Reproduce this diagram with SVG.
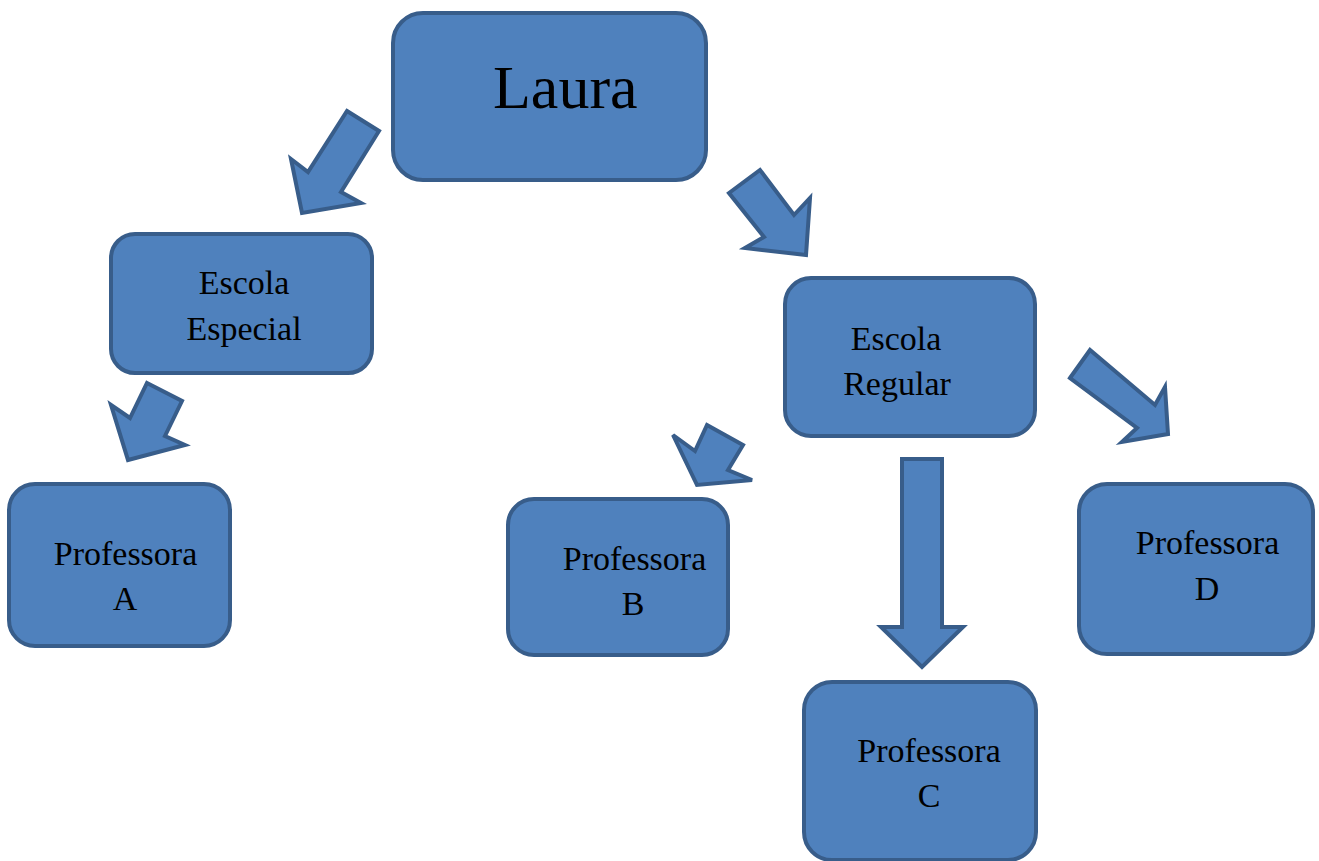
<svg xmlns="http://www.w3.org/2000/svg" width="1319" height="861" viewBox="0 0 1319 861">
<style>
.box{fill:#4f81bd;stroke:#385d8a;stroke-width:4}
.arr{fill:#4f81bd;stroke:#385d8a;stroke-width:4;stroke-linejoin:miter}
.t{font-family:"Liberation Serif","Times New Roman",serif;font-size:34px;fill:#000;text-anchor:middle}
</style>
<rect width="1319" height="861" fill="#ffffff"/>
<g id="connectors">
<polygon class="arr" points="347,111 379,131 341,192 361,203 302,213 291,159 308,172"/>
<polygon class="arr" points="729,193 760,170 794,215 810,198 806,255 745,248 764,237"/>
<polygon class="arr" points="147,383 182,401 165,436 185,445 128,460 111,405 130,418"/>
<polygon class="arr" points="707,425 743,445 728,470 752,480 697,485 673,435 695,451"/>
<polygon class="arr" points="1070,378 1090,350 1155,405 1165,387 1168,434 1122,442 1137,428"/>
<polygon class="arr" points="902,459 942,459 942,627 963,627 922,667 881,627 902,627"/>
</g>
<g id="laura">
<rect class="box" x="393" y="13" width="313" height="167" rx="30"/>
<text x="493" y="108" style="font-family:'Liberation Serif','Times New Roman',serif;font-size:62px">Laura</text>
</g>
<g id="escola-especial">
<rect class="box" x="111" y="234" width="261" height="139" rx="24"/>
<text class="t" x="244" y="294">Escola</text>
<text class="t" x="244" y="340">Especial</text>
</g>
<g id="escola-regular">
<rect class="box" x="785" y="278" width="250" height="158" rx="26"/>
<text class="t" x="896" y="350">Escola</text>
<text class="t" x="897" y="395">Regular</text>
</g>
<g id="professora-a">
<rect class="box" x="9" y="484" width="221" height="162" rx="26"/>
<text class="t" x="125.5" y="565">Professora</text>
<text class="t" x="125" y="610">A</text>
</g>
<g id="professora-b">
<rect class="box" x="508" y="499" width="220" height="156" rx="26"/>
<text class="t" x="634.5" y="570">Professora</text>
<text class="t" x="633" y="615">B</text>
</g>
<g id="professora-c">
<rect class="box" x="804" y="682" width="232" height="178" rx="28"/>
<text class="t" x="929" y="762">Professora</text>
<text class="t" x="929" y="807">C</text>
</g>
<g id="professora-d">
<rect class="box" x="1079" y="484" width="234" height="170" rx="28"/>
<text class="t" x="1207.5" y="554">Professora</text>
<text class="t" x="1207" y="600">D</text>
</g>
</svg>
